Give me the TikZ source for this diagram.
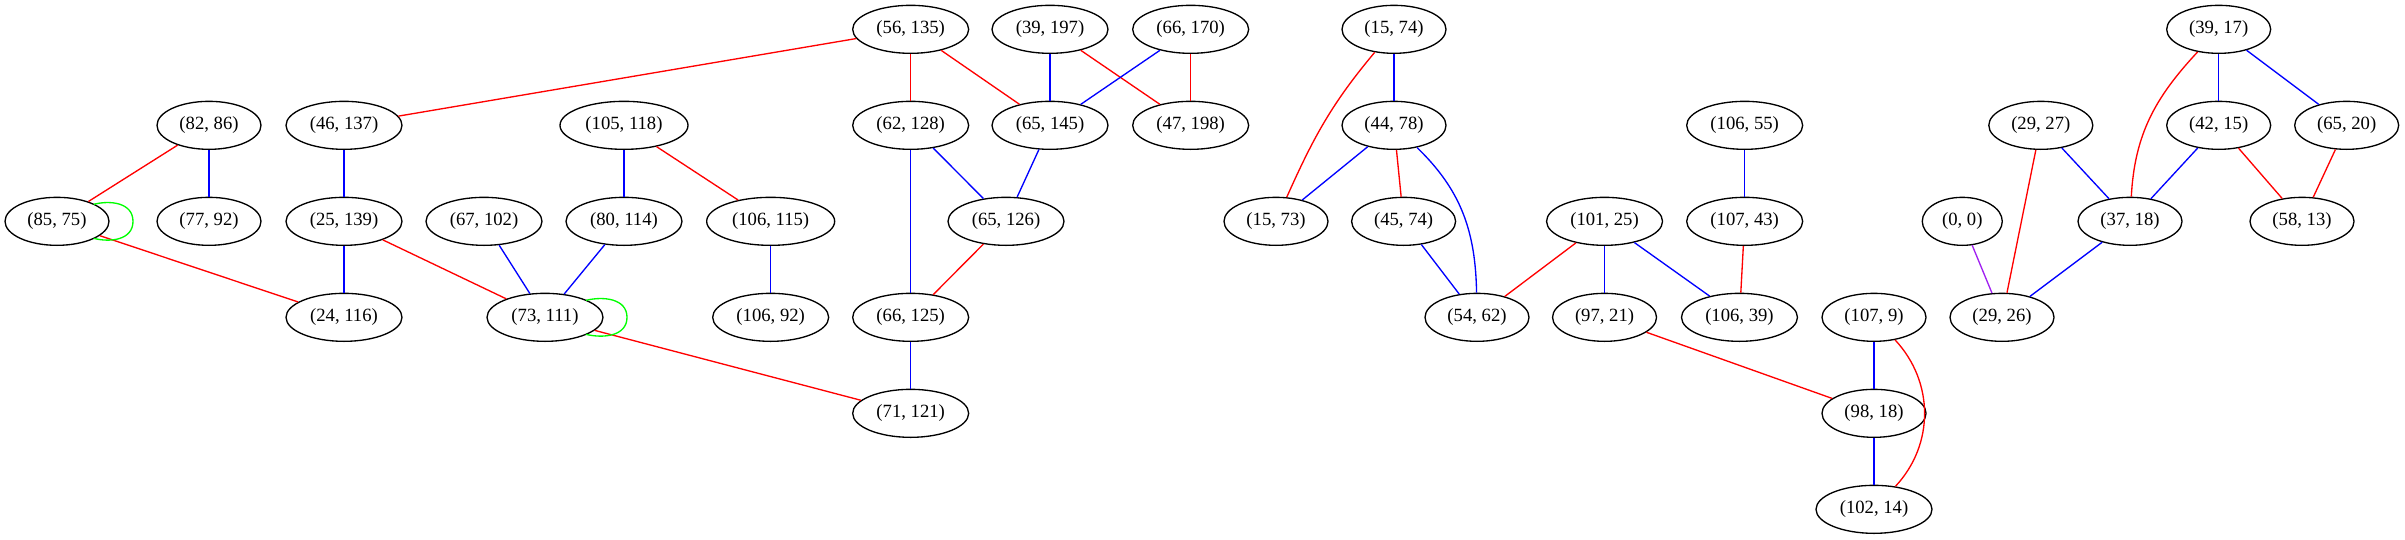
\documentclass[tikz,border=0pt]{standalone}
\usepackage{fontspec}
\setmainfont{Liberation Serif}
\usetikzlibrary{shapes.geometric}
\definecolor{gvred}{RGB}{255,0,0}
\definecolor{gvblue}{RGB}{0,0,255}
\definecolor{gvgreen}{RGB}{0,255,0}
\definecolor{gvpurple}{RGB}{160,32,240}
\tikzset{
  gv/.style={ellipse,draw=black,line width=1pt,inner sep=0pt,minimum height=36pt,font=\fontsize{14pt}{16pt}\selectfont},
  wa/.style={gv,minimum width=78pt},
  wb/.style={gv,minimum width=87pt},
  wc/.style={gv,minimum width=96pt},
  wz/.style={gv,minimum width=60pt},
  rl/.style={draw=gvred,line width=1pt},
  bl/.style={draw=gvblue,line width=1pt},
  gl/.style={draw=gvgreen,line width=1pt},
  pl/.style={draw=gvpurple,line width=1pt}
}
\begin{document}
\begin{tikzpicture}[x=1pt,y=1pt]
\useasboundingbox (0,0) rectangle (1803.75,-404.25);
% row 0
\node[wb] (n56x135) at (683,-22) {(56, 135)};
\node[wb] (n39x197) at (787.5,-22) {(39, 197)};
\node[wb] (n66x170) at (893,-22) {(66, 170)};
\node[wa] (n15x74) at (1045.5,-22) {(15, 74)};
\node[wa] (n39x17) at (1664,-22) {(39, 17)};
% row 1
\node[wa] (n82x86) at (156.75,-94) {(82, 86)};
\node[wb] (n46x137) at (258,-94) {(46, 137)};
\node[wc] (n105x118) at (468,-94) {(105, 118)};
\node[wb] (n62x128) at (683,-94) {(62, 128)};
\node[wb] (n65x145) at (787.5,-94) {(65, 145)};
\node[wb] (n47x198) at (893,-94) {(47, 198)};
\node[wa] (n44x78) at (1045.5,-94) {(44, 78)};
\node[wb] (n106x55) at (1308.5,-94) {(106, 55)};
\node[wa] (n29x27) at (1530.6,-94) {(29, 27)};
\node[wa] (n42x15) at (1664,-94) {(42, 15)};
\node[wa] (n65x20) at (1760,-94) {(65, 20)};
% row 2
\node[wa] (n85x75) at (42.75,-166) {(85, 75)};
\node[wa] (n77x92) at (156.75,-166) {(77, 92)};
\node[wb] (n25x139) at (258,-166) {(25, 139)};
\node[wb] (n67x102) at (363,-166) {(67, 102)};
\node[wb] (n80x114) at (468,-166) {(80, 114)};
\node[wc] (n106x115) at (578,-166) {(106, 115)};
\node[wb] (n65x126) at (754.5,-166) {(65, 126)};
\node[wa] (n15x73) at (957,-166) {(15, 73)};
\node[wa] (n45x74) at (1052.7,-166) {(45, 74)};
\node[wb] (n101x25) at (1203.4,-166) {(101, 25)};
\node[wb] (n107x43) at (1308.5,-166) {(107, 43)};
\node[wz] (n0x0) at (1471.7,-166) {(0, 0)};
\node[wa] (n37x18) at (1597.5,-166) {(37, 18)};
\node[wa] (n58x13) at (1726.5,-166) {(58, 13)};
% row 3
\node[wb] (n24x116) at (258,-238) {(24, 116)};
\node[wb] (n73x111) at (408.75,-238) {(73, 111)};
\node[wb] (n106x92) at (578,-238) {(106, 92)};
\node[wb] (n66x125) at (683,-238) {(66, 125)};
\node[wa] (n54x62) at (1107.75,-238) {(54, 62)};
\node[wa] (n97x21) at (1203.4,-238) {(97, 21)};
\node[wb] (n106x39) at (1304.6,-238) {(106, 39)};
\node[wa] (n107x9) at (1405.5,-238) {(107, 9)};
\node[wa] (n29x26) at (1501.5,-238) {(29, 26)};
% row 4,5
\node[wb] (n71x121) at (683,-310) {(71, 121)};
\node[wa] (n98x18) at (1405.5,-310) {(98, 18)};
\node[wb] (n102x14) at (1405.5,-382) {(102, 14)};
% edges
\draw[rl] (n56x135) -- (n46x137);
\draw[rl] (n56x135) -- (n62x128);
\draw[rl] (n56x135) -- (n65x145);
\draw[bl] (n39x197) -- (n65x145);
\draw[rl] (n39x197) -- (n47x198);
\draw[bl] (n66x170) -- (n65x145);
\draw[rl] (n66x170) -- (n47x198);
\draw[bl] (n15x74) -- (n44x78);
\draw[rl] (n15x74) to[out=230,in=66] (n15x73);
\draw[bl] (n39x17) -- (n42x15);
\draw[bl] (n39x17) -- (n65x20);
\draw[rl] (n39x17) to[out=227,in=87] (n37x18);
\draw[rl] (n82x86) -- (n85x75);
\draw[bl] (n82x86) -- (n77x92);
\draw[bl] (n46x137) -- (n25x139);
\draw[bl] (n105x118) -- (n80x114);
\draw[rl] (n105x118) -- (n106x115);
\draw[bl] (n62x128) -- (n65x126);
\draw[bl] (n62x128) -- (n66x125);
\draw[bl] (n65x145) -- (n65x126);
\draw[bl] (n44x78) -- (n15x73);
\draw[rl] (n44x78) -- (n45x74);
\draw[bl] (n44x78) to[out=-44,in=91] (n54x62);
\draw[bl] (n106x55) -- (n107x43);
\draw[bl] (n29x27) -- (n37x18);
\draw[rl] (n29x27) -- (n29x26);
\draw[bl] (n42x15) -- (n37x18);
\draw[rl] (n42x15) -- (n58x13);
\draw[rl] (n65x20) -- (n58x13);
\draw[rl] (n85x75) -- (n24x116);
\draw[bl] (n25x139) -- (n24x116);
\draw[rl] (n25x139) -- (n73x111);
\draw[bl] (n67x102) -- (n73x111);
\draw[bl] (n80x114) -- (n73x111);
\draw[bl] (n106x115) -- (n106x92);
\draw[rl] (n65x126) -- (n66x125);
\draw[bl] (n45x74) -- (n54x62);
\draw[rl] (n101x25) -- (n54x62);
\draw[bl] (n101x25) -- (n97x21);
\draw[bl] (n101x25) -- (n106x39);
\draw[rl] (n107x43) -- (n106x39);
\draw[pl] (n0x0) -- (n29x26);
\draw[bl] (n37x18) -- (n29x26);
\draw[rl] (n73x111) -- (n71x121);
\draw[bl] (n66x125) -- (n71x121);
\draw[rl] (n97x21) -- (n98x18);
\draw[bl] (n107x9) -- (n98x18);
\draw[rl] (n107x9) to[out=-47,in=47] (n102x14);
\draw[bl] (n98x18) -- (n102x14);
% self loops
\draw[gl] ([shift={(27.5,12.75)}]n85x75.center) .. controls ([shift={(40,16)}]n85x75.center) and ([shift={(57,14)}]n85x75.center) .. ([shift={(57,0)}]n85x75.center) .. controls ([shift={(57,-14)}]n85x75.center) and ([shift={(40,-16)}]n85x75.center) .. ([shift={(27.5,-12.75)}]n85x75.center);
\draw[gl] ([shift={(30.7,12.75)}]n73x111.center) .. controls ([shift={(44,16)}]n73x111.center) and ([shift={(61.5,14)}]n73x111.center) .. ([shift={(61.5,0)}]n73x111.center) .. controls ([shift={(61.5,-14)}]n73x111.center) and ([shift={(44,-16)}]n73x111.center) .. ([shift={(30.7,-12.75)}]n73x111.center);
\end{tikzpicture}
\end{document}
